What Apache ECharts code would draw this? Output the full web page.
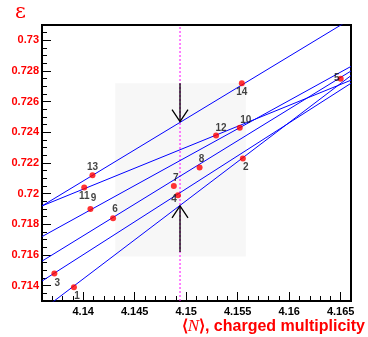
<!DOCTYPE html>
<html>
<head>
<meta charset="utf-8">
<script src="https://cdn.jsdelivr.net/npm/echarts@6/dist/echarts.min.js"></script>
<style>
  html, body { margin: 0; padding: 0; background: #fff; }
  #chart { width: 368px; height: 337px; }
</style>
</head>
<body>
<div id="chart"></div>
<script>
// axis ranges and labelled ticks
const X_RANGE = [4.136, 4.166];
const Y_RANGE = [0.713, 0.731];
const X_TICKS = [4.14, 4.145, 4.15, 4.155, 4.16, 4.165];
const Y_TICKS = [0.714, 0.716, 0.718, 0.72, 0.722, 0.724, 0.726, 0.728, 0.73];

// numbered points
const POINT_IDS = ["1", "2", "3", "4", "5", "6", "7", "8", "9", "10", "11", "12", "13", "14"];
const POINT_X = [4.1391, 4.1555, 4.1372, 4.1492, 4.1650, 4.1429, 4.1488, 4.1513, 4.1407, 4.1552, 4.1401, 4.1529, 4.1409, 4.1554];
const POINT_Y = [0.7139, 0.7223, 0.7148, 0.7199, 0.7275, 0.7184, 0.7205, 0.7217, 0.7190, 0.7243, 0.7204, 0.7238, 0.7212, 0.7272];

// blue lines: value at the left and right edge of the frame
const LINE_LEFT_Y = [0.7192, 0.7192, 0.7172, 0.7156, 0.7143, 0.7124];
const LINE_RIGHT_Y = [0.7314, 0.7274, 0.7283, 0.7280, 0.7272, 0.7277];

// vertical cut, shaded band and the two arrows (from, tip)
const CUT_X = 4.1494;
const BAND_X = [4.1431, 4.1558];
const BAND_Y = [0.7159, 0.7272];
const ARROW_FROM = [0.7272, 0.7162];
const ARROW_TIP = [0.7247, 0.7192];

// label placement around each point (px), same order as POINT_IDS
const LABEL_OFFSET = [[3, 9], [3, 9], [3, 10], [-4, 4], [-4, 0], [2, -9], [2, -8],
  [2, -8], [3, -11], [6, -7], [0, 9], [5, -7], [0, -8], [0, 9]];

const FONT = "'Liberation Sans', Arial, sans-serif";
const fmt = (v) => String(+v.toFixed(3));

const chart = echarts.init(document.getElementById("chart"), null, { renderer: "canvas" });

const lineSeries = LINE_LEFT_Y.map((yl, i) => ({
  name: "line" + (i + 1),
  type: "line",
  data: [[X_RANGE[0], yl], [X_RANGE[1], LINE_RIGHT_Y[i]]],
  showSymbol: false,
  clip: true,
  silent: true,
  z: 3,
  lineStyle: { color: "#0000ff", width: 1 },
}));

chart.setOption({
  animation: false,
  grid: {
    left: 42, right: 16, top: 25, bottom: 36,
    show: true, borderColor: "#000", borderWidth: 2, backgroundColor: "transparent",
  },
  xAxis: [
    {
      type: "value",
      min: X_RANGE[0], max: X_RANGE[1],
      position: "bottom",
      axisLine: { show: false },
      splitLine: { show: false },
      axisTick: { inside: true, length: 9, customValues: X_TICKS, lineStyle: { color: "#000", width: 1 } },
      axisLabel: {
        customValues: X_TICKS, formatter: fmt, margin: 5,
        color: "#000", fontFamily: FONT, fontWeight: "bold", fontSize: 11,
      },
      name: "{a|\u27E8}{n|N}{a|\u27E9, charged multiplicity}",
      nameLocation: "end",
      nameGap: 14,
      nameTextStyle: {
        align: "right", verticalAlign: "top", padding: [17, 0, 0, 0],
        rich: {
          a: { color: "#ff0000", fontFamily: FONT, fontWeight: "bold", fontSize: 16 },
          n: { color: "#ff0000", fontFamily: "'Liberation Serif', serif", fontStyle: "italic", fontSize: 17 },
        },
      },
    },
    {
      type: "value",
      min: X_RANGE[0], max: X_RANGE[1], interval: 0.001,
      position: "bottom",
      axisLine: { show: false },
      splitLine: { show: false },
      axisLabel: { show: false },
      axisTick: { inside: true, length: 5, lineStyle: { color: "#000", width: 1 } },
    },
  ],
  yAxis: [
    {
      type: "value",
      min: Y_RANGE[0], max: Y_RANGE[1],
      position: "left",
      axisLine: { show: false },
      splitLine: { show: false },
      axisTick: { inside: true, length: 9, customValues: Y_TICKS, lineStyle: { color: "#000", width: 1 } },
      axisLabel: {
        customValues: Y_TICKS, formatter: fmt, margin: 3,
        color: "#ff0000", fontFamily: FONT, fontWeight: "bold", fontSize: 11,
      },
      name: "\u03B5",
      nameLocation: "end",
      nameGap: 12,
      nameTextStyle: {
        align: "right", verticalAlign: "middle", padding: [0, 16, 0, 0],
        color: "#ff0000", fontFamily: "'DejaVu Serif', serif", fontSize: 21,
      },
    },
    {
      type: "value",
      min: Y_RANGE[0], max: Y_RANGE[1], interval: 0.0005,
      position: "left",
      axisLine: { show: false },
      splitLine: { show: false },
      axisLabel: { show: false },
      axisTick: { inside: true, length: 5, lineStyle: { color: "#000", width: 1 } },
    },
  ],
  series: [
    {
      name: "band",
      type: "line",
      data: [],
      z: 1,
      silent: true,
      markArea: {
        silent: true,
        itemStyle: { color: "rgba(0,0,0,0.03)" },
        data: [[{ coord: [BAND_X[0], BAND_Y[1]] }, { coord: [BAND_X[1], BAND_Y[0]] }]],
      },
    },
    {
      name: "cut",
      type: "line",
      data: [[CUT_X, Y_RANGE[0]], [CUT_X, Y_RANGE[1]]],
      showSymbol: false,
      silent: true,
      z: 2,
      lineStyle: { color: "#ff00ff", width: 1, type: [2, 2] },
    },
    ...lineSeries,
    {
      name: "arrows",
      type: "custom",
      z: 4,
      silent: true,
      data: ARROW_FROM.map((f, i) => [CUT_X, f, ARROW_TIP[i]]),
      renderItem: (params, api) => {
        const from = api.coord([api.value(0), api.value(1)]);
        const tip = api.coord([api.value(0), api.value(2)]);
        const dir = tip[1] > from[1] ? 1 : -1;
        const style = { stroke: "#000", lineWidth: 1.3, fill: null };
        return {
          type: "group",
          children: [
            { type: "polyline", shape: { points: [from, tip] }, style },
            {
              type: "polyline",
              shape: { points: [[tip[0] - 8, tip[1] - dir * 12], tip, [tip[0] + 8, tip[1] - dir * 12]] },
              style,
            },
          ],
        };
      },
    },
    {
      name: "points",
      type: "scatter",
      z: 5,
      symbolSize: 6,
      itemStyle: { color: "#ff0000" },
      data: POINT_IDS.map((id, i) => ({
        name: id,
        value: [POINT_X[i], POINT_Y[i]],
        label: { offset: LABEL_OFFSET[i] },
      })),
      label: {
        show: true,
        position: "inside",
        formatter: "{b}",
        color: "#111",
        fontFamily: FONT,
        fontWeight: "bold",
        fontSize: 10,
      },
    },
  ],
});
</script>
</body>
</html>
